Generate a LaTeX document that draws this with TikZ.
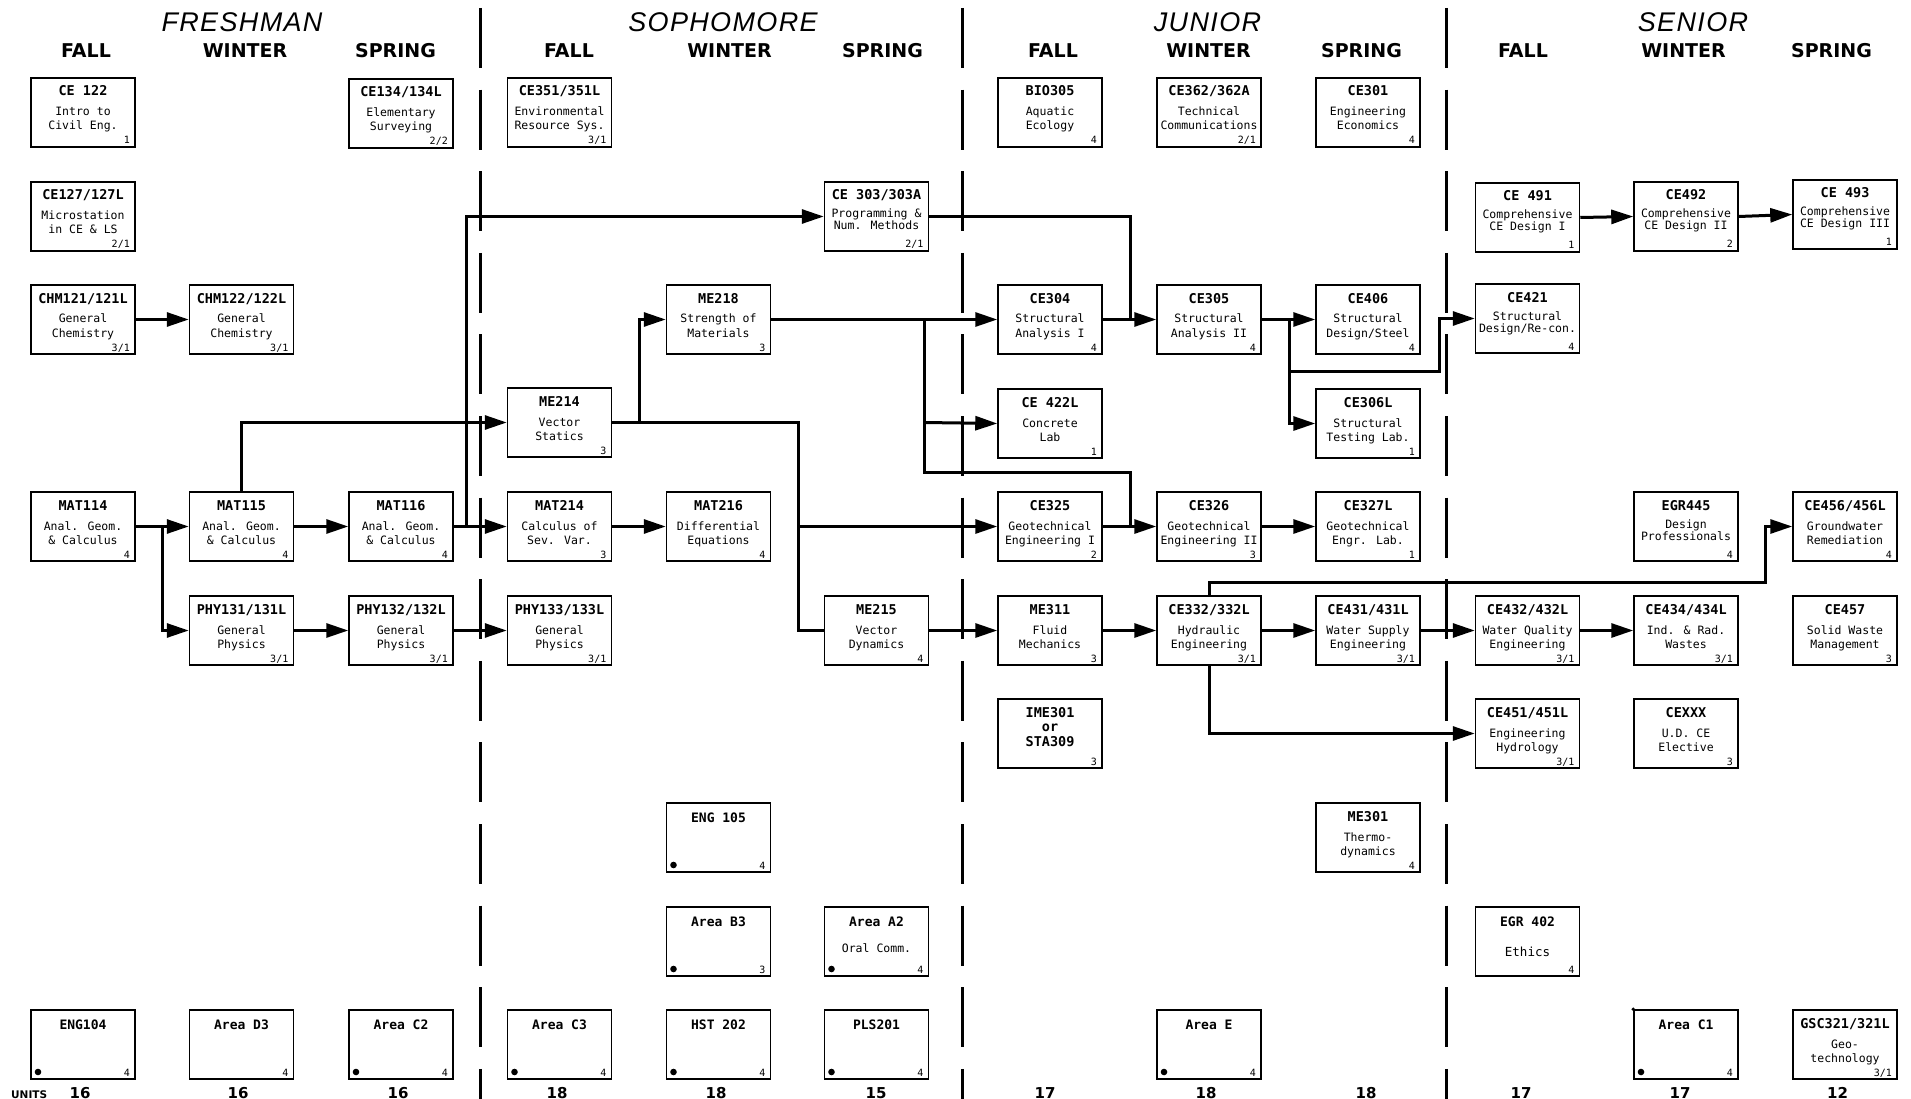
\documentclass[tikz,border=0pt]{standalone}
\usepackage{fontspec}
\setmainfont{DejaVu Sans}
\newfontfamily\monofont{DejaVu Sans Mono}
\newfontfamily\yearfont{Liberation Sans}[LetterSpace=5]
\usetikzlibrary{arrows.meta,calc}
\tikzset{
  cbox/.style={draw, line width=1.5pt, minimum width=104pt, minimum height=69pt, inner sep=0pt},
  codet/.style={font=\monofont\bfseries\fontsize{13.5}{14}\selectfont, anchor=base, inner sep=0pt},
  desct/.style={font=\monofont\fontsize{11.5}{12}\selectfont, anchor=base, inner sep=0pt},
  credt/.style={font=\monofont\fontsize{10}{11}\selectfont, anchor=base east, inner sep=0pt},
  yeart/.style={font=\yearfont\itshape\fontsize{27}{30}\selectfont, anchor=base, inner sep=0pt},
  seasont/.style={font=\bfseries\fontsize{19}{21}\selectfont, anchor=base, inner sep=0pt},
  unitt/.style={font=\bfseries\fontsize{15}{17}\selectfont, anchor=base, inner sep=0pt},
  conn/.style={line width=3pt},
  arr/.style={-{Triangle[length=22pt,width=14pt]}},
  divider/.style={line width=3pt, dash pattern=on 60pt off 21.6pt},
}
\newcommand\course[7]{%
  \node[cbox] (#1) at (#2,#3+34.5) {};
  \node[codet] (#1c) at (#2,#3+18) {#4};
  \node[desct] (#1a) at (#2,#3+38) {#5};
  \node[desct] (#1b) at (#2,#3+52) {#6};
  \node[credt] (#1u) at (#2+47,#3+66) {#7};
}
\newcommand\coursetight[7]{%
  \node[cbox] (#1) at (#2,#3+34.5) {};
  \node[codet] (#1c) at (#2,#3+18) {#4};
  \node[desct] (#1a) at (#2,#3+36) {#5};
  \node[desct] (#1b) at (#2,#3+48) {#6};
  \node[credt] (#1u) at (#2+47,#3+66) {#7};
}
\newcommand\genbox[5]{%
  \node[cbox] (#1) at (#2,#3+34.5) {};
  \node[codet, font=\monofont\bfseries\fontsize{13}{14}\selectfont] (#1c) at (#2,#3+19) {#4};
  \node[credt] (#1u) at (#2+47,#3+66) {#5};
}
\newcommand\gendot[2]{\fill (#1-45,#2+62) circle[radius=3.3pt];}
\begin{document}
\begin{tikzpicture}[x=1pt,y=-1pt]
\fill[white] (0,0) rectangle (1911,1099);
\useasboundingbox (0,0) rectangle (1911,1099);

% dividers
\draw[divider] (480.5,8) -- (480.5,1099);
\draw[divider] (962.5,8) -- (962.5,1099);
\draw[divider] (1446.5,8) -- (1446.5,1099);

% headers
\node[yeart] (yfr) at (242,32) {FRESHMAN};
\node[yeart] (yso) at (723,32) {SOPHOMORE};
\node[yeart] (yju) at (1207.5,32) {JUNIOR};
\node[yeart] (yse) at (1693,32) {SENIOR};
\node[seasont] (s1) at (86,58) {FALL};
\node[seasont] (s2) at (245,58) {WINTER};
\node[seasont] (s3) at (395.5,58) {SPRING};
\node[seasont] (s4) at (569,58) {FALL};
\node[seasont] (s5) at (729.5,58) {WINTER};
\node[seasont] (s6) at (882.5,58) {SPRING};
\node[seasont] (s7) at (1053,58) {FALL};
\node[seasont] (s8) at (1208.5,58) {WINTER};
\node[seasont] (s9) at (1361.5,58) {SPRING};
\node[seasont] (s10) at (1523,58) {FALL};
\node[seasont] (s11) at (1683.5,58) {WINTER};
\node[seasont] (s12) at (1831.5,58) {SPRING};

% row 1
\course{ce122}{83}{78}{CE 122}{Intro to}{Civil Eng.}{1}
\course{ce134}{401}{79}{CE134/134L}{Elementary}{Surveying}{2/2}
\course{ce351}{559.5}{78}{CE351/351L}{Environmental}{Resource Sys.}{3/1}
\course{bio305}{1050}{78}{BIO305}{Aquatic}{Ecology}{4}
\course{ce362}{1209}{78}{CE362/362A}{Technical}{Communications}{2/1}
\course{ce301}{1368}{78}{CE301}{Engineering}{Economics}{4}
% row 2
\course{ce127}{83}{182}{CE127/127L}{Microstation}{in CE \& LS}{2/1}
\coursetight{ce303}{876.5}{182}{CE 303/303A}{Programming \&}{Num. Methods}{2/1}
\coursetight{ce491}{1527.5}{183}{CE 491}{Comprehensive}{CE Design I}{1}
\coursetight{ce492}{1686}{182}{CE492}{Comprehensive}{CE Design II}{2}
\coursetight{ce493}{1845}{180}{CE 493}{Comprehensive}{CE Design III}{1}
% row 3
\course{chm121}{83}{285}{CHM121/121L}{General}{Chemistry}{3/1}
\course{chm122}{241.5}{285}{CHM122/122L}{General}{Chemistry}{3/1}
\course{me218}{718.5}{285}{ME218}{Strength of}{Materials}{3}
\course{ce304}{1050}{285}{CE304}{Structural}{Analysis I}{4}
\course{ce305}{1209}{285}{CE305}{Structural}{Analysis II}{4}
\course{ce406}{1368}{285}{CE406}{Structural}{Design/Steel}{4}
\coursetight{ce421}{1527.5}{284}{CE421}{Structural}{Design/Re-con.}{4}
% row 4
\course{me214}{559.5}{388}{ME214}{Vector}{Statics}{3}
\course{ce422l}{1050}{389}{CE 422L}{Concrete}{Lab}{1}
\course{ce306l}{1368}{389}{CE306L}{Structural}{Testing Lab.}{1}
% row 5
\course{mat114}{83}{492}{MAT114}{Anal. Geom.}{\& Calculus}{4}
\course{mat115}{241.5}{492}{MAT115}{Anal. Geom.}{\& Calculus}{4}
\course{mat116}{401}{492}{MAT116}{Anal. Geom.}{\& Calculus}{4}
\course{mat214}{559.5}{492}{MAT214}{Calculus of}{Sev. Var.}{3}
\course{mat216}{718.5}{492}{MAT216}{Differential}{Equations}{4}
\course{ce325}{1050}{492}{CE325}{Geotechnical}{Engineering I}{2}
\course{ce326}{1209}{492}{CE326}{Geotechnical}{Engineering II}{3}
\course{ce327l}{1368}{492}{CE327L}{Geotechnical}{Engr. Lab.}{1}
\coursetight{egr445}{1686}{492}{EGR445}{Design}{Professionals}{4}
\course{ce456}{1845}{492}{CE456/456L}{Groundwater}{Remediation}{4}
% row 6
\course{phy131}{241.5}{596}{PHY131/131L}{General}{Physics}{3/1}
\course{phy132}{401}{596}{PHY132/132L}{General}{Physics}{3/1}
\course{phy133}{559.5}{596}{PHY133/133L}{General}{Physics}{3/1}
\course{me215}{876.5}{596}{ME215}{Vector}{Dynamics}{4}
\course{me311}{1050}{596}{ME311}{Fluid}{Mechanics}{3}
\course{ce332}{1209}{596}{CE332/332L}{Hydraulic}{Engineering}{3/1}
\course{ce431}{1368}{596}{CE431/431L}{Water Supply}{Engineering}{3/1}
\course{ce432}{1527.5}{596}{CE432/432L}{Water Quality}{Engineering}{3/1}
\course{ce434}{1686}{596}{CE434/434L}{Ind. \& Rad.}{Wastes}{3/1}
\course{ce457}{1845}{596}{CE457}{Solid Waste}{Management}{3}
% row 7
\node[cbox] (ime301) at (1050,699+34.5) {};
\node[codet] (ime301c) at (1050,699+18) {IME301};
\node[codet] (ime301o) at (1050,699+32) {or};
\node[codet] (ime301s) at (1050,699+47) {STA309};
\node[credt] (ime301u) at (1050+47,699+66) {3};
\course{ce451}{1527.5}{699}{CE451/451L}{Engineering}{Hydrology}{3/1}
\course{cexxx}{1686}{699}{CEXXX}{U.D. CE}{Elective}{3}
% row 8
\genbox{eng105}{718.5}{803}{ENG 105}{4}\gendot{718.5}{803}
\course{me301}{1368}{803}{ME301}{Thermo-}{dynamics}{4}
% row 9
\genbox{areab3}{718.5}{907}{Area B3}{3}\gendot{718.5}{907}
\genbox{areaa2}{876.5}{907}{Area A2}{4}\gendot{876.5}{907}
\node[desct] (areaa2a) at (876.5,907+45) {Oral Comm.};
\genbox{egr402}{1527.5}{907}{EGR 402}{4}
\node[desct, font=\monofont\fontsize{12.5}{13}\selectfont] (egr402a) at (1527.5,907+49) {Ethics};
% row 10
\genbox{eng104}{83}{1010}{ENG104}{4}\gendot{83}{1010}
\genbox{aread3}{241.5}{1010}{Area D3}{4}
\genbox{areac2}{401}{1010}{Area C2}{4}\gendot{401}{1010}
\genbox{areac3}{559.5}{1010}{Area C3}{4}\gendot{559.5}{1010}
\genbox{hst202}{718.5}{1010}{HST 202}{4}\gendot{718.5}{1010}
\genbox{pls201}{876.5}{1010}{PLS201}{4}\gendot{876.5}{1010}
\genbox{areae}{1209}{1010}{Area E}{4}\gendot{1209}{1010}
\genbox{areac1}{1686}{1010}{Area C1}{4}\gendot{1686}{1010}
\fill (areac1.north west) circle[radius=1.8pt];
\course{gsc321}{1845}{1010}{GSC321/321L}{Geo-}{technology}{3/1}

% units row
\node[font=\bfseries\fontsize{10.5}{12}\selectfont, anchor=base west, inner sep=0pt] (unitslbl) at (11,1098) {UNITS};
\node[unitt] (u1) at (80,1098) {16};
\node[unitt] (u2) at (238,1098) {16};
\node[unitt] (u3) at (398,1098) {16};
\node[unitt] (u4) at (557,1098) {18};
\node[unitt] (u5) at (716,1098) {18};
\node[unitt] (u6) at (876,1098) {15};
\node[unitt] (u7) at (1045,1098) {17};
\node[unitt] (u8) at (1206,1098) {18};
\node[unitt] (u9) at (1366,1098) {18};
\node[unitt] (u10) at (1521,1098) {17};
\node[unitt] (u11) at (1680,1098) {17};
\node[unitt] (u12) at (1837.5,1098) {12};

% junction coordinates
\coordinate (j1) at (162.5,526.5);
\coordinate (j2) at (466,526.5);
\coordinate (j3) at (639,422.5);
\coordinate (j4) at (798,422.5);
\coordinate (j5) at (798,526.5);
\coordinate (j6) at (924,319.5);
\coordinate (j7) at (924,472);
\coordinate (j8) at (1130,472);
\coordinate (j9) at (1130,526.5);
\coordinate (j10) at (1130,319.5);
\coordinate (jq) at (924,422.5);
\coordinate (j11) at (1289,319.5);
\coordinate (j12) at (1289,371);
\coordinate (j13) at (1439,371);
\coordinate (j14) at (1209,582);
\coordinate (j15) at (1765,582);

% connectors
\draw[conn,arr] (chm121.east) -- (chm122.west);
\draw[conn,arr] (mat114.east) -- (mat115.west);
\draw[conn,arr] (j1) |- (phy131.west);
\draw[conn,arr] (mat115.east) -- (mat116.west);
\draw[conn,arr] (mat115.north) |- (me214.west);
\draw[conn,arr] (mat116.east) -- (mat214.west);
\draw[conn,arr] (j2) |- (ce303.west);
\draw[conn,arr] (phy131.east) -- (phy132.west);
\draw[conn,arr] (phy132.east) -- (phy133.west);
\draw[conn,arr] (mat214.east) -- (mat216.west);
\draw[conn] (me214.east) -- (j4) |- (me215.west);
\draw[conn,arr] (j3) |- (me218.west);
\draw[conn,arr] (j5) -- (ce325.west);
\draw[conn,arr] (me218.east) -- (ce304.west);
\draw[conn] (j6) -- (j7) -- (j8) -- (j9);
\draw[conn,arr] (jq) -- (ce422l.west);
\draw[conn,arr] (ce325.east) -- (ce326.west);
\draw[conn,arr] (ce304.east) -- (ce305.west);
\draw[conn] (ce303.east) -| (j10);
\draw[conn,arr] (ce305.east) -- (ce406.west);
\draw[conn,arr] (j11) |- (ce306l.west);
\draw[conn,arr] (j12) -- (j13) |- (ce421.west);
\draw[conn,arr] (ce326.east) -- (ce327l.west);
\draw[conn,arr] (me215.east) -- (me311.west);
\draw[conn,arr] (me311.east) -- (ce332.west);
\draw[conn,arr] (ce332.east) -- (ce431.west);
\draw[conn,arr] (ce431.east) -- (ce432.west);
\draw[conn,arr] (ce432.east) -- (ce434.west);
\draw[conn,arr] (ce332.north) -- (j14) -- (j15) |- (ce456.west);
\draw[conn,arr] (ce332.south) |- (ce451.west);
\draw[conn,arr] (ce491.east) -- (ce492.west);
\draw[conn,arr] (ce492.east) -- (ce493.west);
\end{tikzpicture}
\end{document}
